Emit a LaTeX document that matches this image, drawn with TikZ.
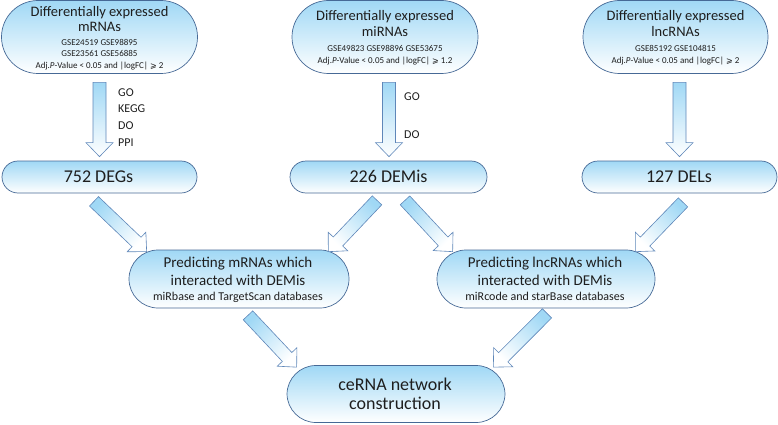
\documentclass[tikz,border=0pt]{standalone}
\usepackage{fontspec}
\setmainfont{Carlito}
\newfontfamily\symf{DejaVu Sans}
\usetikzlibrary{calc}
\definecolor{boxline}{RGB}{70,105,150}
\definecolor{arrline}{RGB}{95,135,185}
\definecolor{fillblue}{RGB}{160,216,245}
\definecolor{txtc}{RGB}{30,30,30}
\newcommand\fbig{\fontsize{14.5}{16}\selectfont}
\newcommand\fsmall{\fontsize{9}{10}\selectfont}
\newcommand\flab{\fontsize{12}{13}\selectfont}
\newcommand\fmid{\fontsize{18}{20}\selectfont}
\newcommand\fpred{\fontsize{15}{17}\selectfont}
\newcommand\fdb{\fontsize{12}{13}\selectfont}
\newcommand\mygeq{{\symf\fontsize{8}{9}\selectfont ⩾}}
\newcommand\barrow[3]{%
  \coordinate (bT) at #2;
  \coordinate (bH) at #3;
  \coordinate (bB) at ($(bH)!14pt!(bT)$);
  \draw[arr, shading angle=#1] ($(bT)!6.5pt!90:(bH)$) -- ($(bB)!6.5pt!90:(bH)$) -- ($(bB)!13.5pt!90:(bH)$) -- (bH) -- ($(bB)!13.5pt!-90:(bH)$) -- ($(bB)!6.5pt!-90:(bH)$) -- ($(bT)!6.5pt!-90:(bH)$) -- cycle;
}
\begin{document}
\begin{tikzpicture}[x=1pt,y=-1pt,
  box/.style={draw=boxline, line width=0.7pt, top color=fillblue, bottom color=white, rounded corners=#1, inner sep=0pt},
  arr/.style={draw=arrline, line width=0.6pt, top color=fillblue, bottom color=white, line join=miter},
  lbl/.style={anchor=base, inner sep=0pt, text=txtc},
  side/.style={anchor=base west, inner sep=0pt, text=txtc, font=\flab}]
\useasboundingbox (0,0) rectangle (778,425);
% top boxes
\node[box=36.5pt, minimum width=196pt, minimum height=73pt] (m) at (99.5,37) {};
\node[box=36.5pt, minimum width=186pt, minimum height=73pt] (mi) at (385,37) {};
\node[box=36.5pt, minimum width=185pt, minimum height=73pt] (li) at (675.5,37) {};
% second row
\node[box=16pt, minimum width=195pt, minimum height=32pt] (degs) at (99.5,177) {};
\node[box=16pt, minimum width=197pt, minimum height=32pt] (demis) at (388.5,177) {};
\node[box=16pt, minimum width=195pt, minimum height=32pt] (dels) at (679.5,177) {};
% third row
\node[box=29pt, minimum width=220pt, minimum height=58pt] (pm) at (239,279) {};
\node[box=29pt, minimum width=218pt, minimum height=58pt] (pl) at (546,279) {};
% bottom
\node[box=29pt, minimum width=218pt, minimum height=57pt] (ce) at (396,394) {};

% texts
\node[lbl, font=\fbig] (m1) at (99.5,17) {Differentially expressed};
\node[lbl, font=\fbig] (m2) at (99.5,32) {mRNAs};
\node[lbl, font=\fsmall] (m3) at (99.5,46) {GSE24519 GSE98895};
\node[lbl, font=\fsmall] (m4) at (99.5,57) {GSE23561 GSE56885};
\node[lbl, font=\fsmall] (m5) at (99.5,69) {Adj.\textit{P}-Value < 0.05 and |logFC| \mygeq{} 2};

\node[lbl, font=\fbig] (mi1) at (385,21) {Differentially expressed};
\node[lbl, font=\fbig] (mi2) at (385,37) {miRNAs};
\node[lbl, font=\fsmall] (mi3) at (385,52) {GSE49823 GSE98896 GSE53675};
\node[lbl, font=\fsmall] (mi4) at (385,64) {Adj.\textit{P}-Value < 0.05 and |logFC| \mygeq{} 1.2};

\node[lbl, font=\fbig] (li1) at (675.5,21) {Differentially expressed};
\node[lbl, font=\fbig] (li2) at (675.5,37) {lncRNAs};
\node[lbl, font=\fsmall] (li3) at (675.5,52) {GSE85192 GSE104815};
\node[lbl, font=\fsmall] (li4) at (675.5,64) {Adj.\textit{P}-Value < 0.05 and |logFC| \mygeq{} 2};

\node[lbl, font=\fmid] (d1) at (98.5,182) {752 DEGs};
\node[lbl, font=\fmid] (d2) at (388.5,182) {226 DEMis};
\node[lbl, font=\fmid] (d3) at (679,182) {127 DELs};

\node[lbl, font=\fpred] (p1) at (238,267) {Predicting mRNAs which};
\node[lbl, font=\fpred] (p2) at (238,285) {interacted with DEMis};
\node[lbl, font=\fdb] (p3) at (238,300) {miRbase and TargetScan databases};

\node[lbl, font=\fpred] (q1) at (545,267) {Predicting lncRNAs which};
\node[lbl, font=\fpred] (q2) at (545,285) {interacted with DEMis};
\node[lbl, font=\fdb] (q3) at (545,300) {miRcode and starBase databases};

\node[lbl, font=\fmid] (c1) at (395,390) {ceRNA network};
\node[lbl, font=\fmid] (c2) at (395,409) {construction};

% side labels
\node[side] (g1) at (118,96) {GO};
\node[side] (g2) at (118,113) {KEGG};
\node[side] (g3) at (118,129) {DO};
\node[side] (g4) at (118,146) {PPI};
\node[side] (g5) at (404,101) {GO};
\node[side] (g6) at (404,139) {DO};

% arrows
\barrow{0}{($(m.south)+(0,8.5)$)}{($(degs.north)+(0,-4)$)}
\barrow{0}{($(mi.south)+(4,8.5)$)}{($(demis.north)+(0.5,-4)$)}
\barrow{0}{($(li.south)+(4,8.5)$)}{($(dels.north)+(0,-4)$)}
\barrow{45}{($(degs.south)+(-5.5,8)$)}{($(pm.north west)+(18,2)$)}
\barrow{-45}{($(demis.south)+(-11.5,7)$)}{($(pm.north east)+(-21,2)$)}
\barrow{45}{($(demis.south)+(16.5,7)$)}{($(pl.north west)+(16,2)$)}
\barrow{-45}{($(dels.south)+(3.5,9)$)}{($(pl.north east)+(-20,2)$)}
\barrow{45}{($(pm.south)+(9,7)$)}{($(ce.north west)+(10,2)$)}
\barrow{-45}{($(pl.south)+(1,5)$)}{($(ce.north east)+(-12,2)$)}
\end{tikzpicture}
\end{document}
